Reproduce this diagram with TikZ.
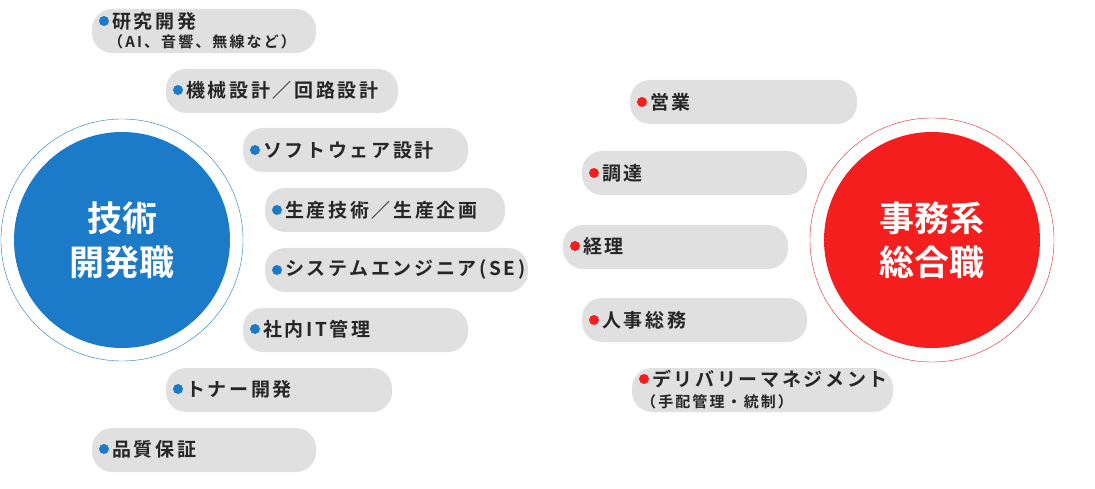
\documentclass[tikz,border=0pt]{standalone}
\usepackage{fontspec}
\setmainfont{Noto Sans CJK JP}
\newfontfamily\cjkbold{Noto Sans CJK JP Bold}
\newfontfamily\cjkspaced[LetterSpace=14]{Noto Sans CJK JP Bold}
\definecolor{techblue}{HTML}{1B7BC8}
\definecolor{officered}{HTML}{F51E1E}
\definecolor{pillgray}{HTML}{E0E0E0}
\begin{document}
\begin{tikzpicture}[
  x = 1pt, y = -1pt,
  pill/.style = {rounded corners = 20pt, fill = pillgray},
  bigcircle/.style = {circle, text = white, align = center,
    font = \cjkbold\fontsize{35}{44}\selectfont},
  item/.style = {anchor = west, align = left, inner sep = 0pt,
    font = \cjkspaced\fontsize{19}{20}\selectfont, text = black!85},
  subitem/.style = {item, font = \cjkspaced\fontsize{15}{16}\selectfont}
  ]
  \useasboundingbox (0,0) rectangle (1095,489);

  % Circles
  \draw [techblue] (122,240) circle (121);
  \node at (122,240) [bigcircle, fill = techblue, minimum size = 216pt,
    name = tech] {技術\\開発職};
  \draw [officered] (932,240) circle (122);
  \node at (932,240) [bigcircle, fill = officered, minimum size = 216pt,
    name = office] {事務系\\総合職};

  % Pills
  \foreach \xa/\xb/\yc in {92/316/31, 166/398/91, 243/468/150, 265/505/210,
      265/528/270, 243/468/330, 166/392/390, 92/316/450,
      630/857/102, 582/807/173, 563/788/247, 582/807/320, 632/893/390}
    \fill [pill] (\xa,\yc-22) rectangle (\xb,\yc+22);

  % Left items
  \foreach \xa/\yc/\txt [count = \i] in {
      98/21/研究開発, 172/90/機械設計／回路設計, 249/150/ソフトウェア設計,
      271/210/生産技術／生産企画, 271/270/システムエンジニア(SE),
      249/329/社内IT管理, 172/389/トナー開発, 98/449/品質保証} {
    \fill [techblue] (\xa+6,\yc) circle (5);
    \node at (\xa+14,\yc) [item, name = tl\i] {\txt};
  }
  \node at (108,42) [subitem, name = tsub] {（AI、音響、無線など）};

  % Right items
  \foreach \xa/\yc/\txt [count = \i] in {
      636/102/営業, 588/173/調達, 569/246/経理, 588/320/人事総務,
      638/379/デリバリーマネジメント} {
    \fill [officered] (\xa+6,\yc) circle (5);
    \node at (\xa+14,\yc) [item, name = rl\i] {\txt};
  }
  \node at (641,402) [subitem, name = rsub] {（手配管理・統制）};
\end{tikzpicture}
\end{document}
